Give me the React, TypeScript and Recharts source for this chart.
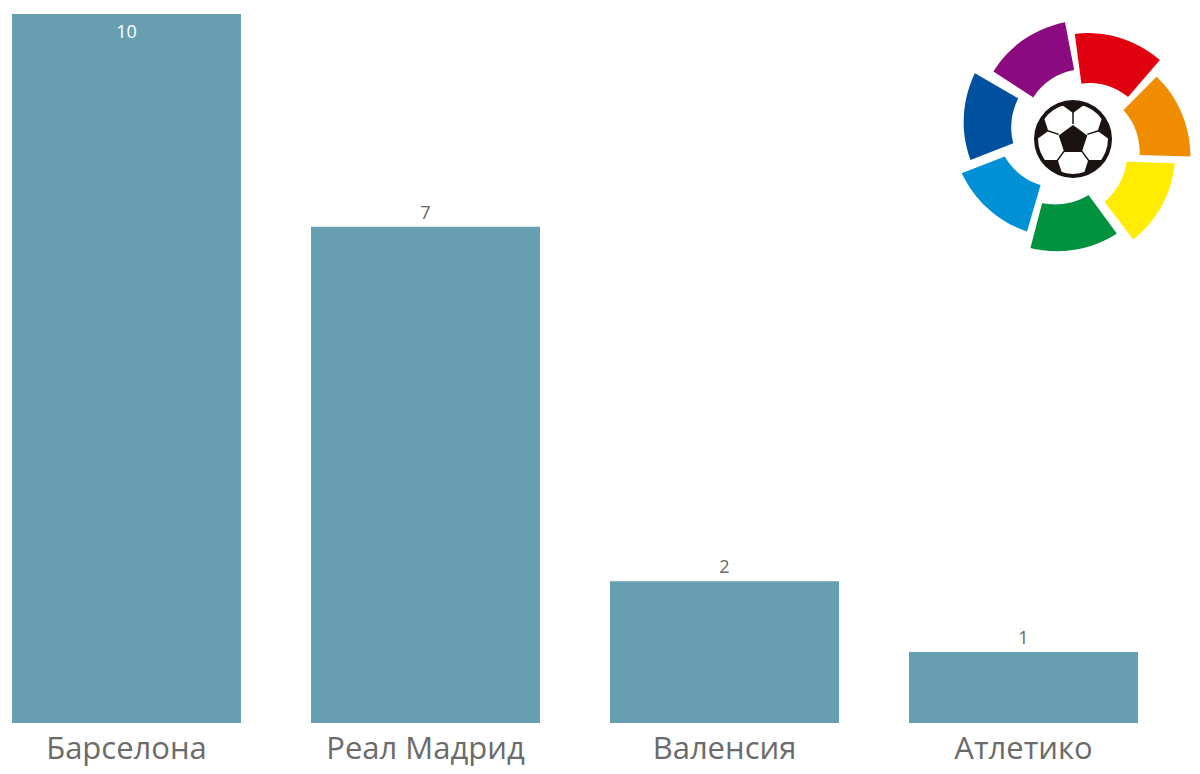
import React from "react";
import { BarChart, Bar, XAxis, YAxis, LabelList } from "recharts";

const teams = ["Барселона", "Реал Мадрид", "Валенсия", "Атлетико"];
const titles = [10, 7, 2, 1];
const data = teams.map((team, i) => ({ team, titles: titles[i] }));

const BAR_COLOR = "#679fb1";
const FONT = "'Open Sans', 'Noto Sans', sans-serif";

// LaLiga logo segments (decoration): [smallAngle, smallOuterR, smallInnerAngle, smallInnerR, bigAngle, bigOuterR, bigInnerAngle, bigInnerR]
const logoColors = ["#8c0a7f", "#e1000f", "#f08c00", "#ffec00", "#00923f", "#0090d5", "#0050a0"];
const logoSegs = [
  [140.6, 103, 135, 56, 94, 115, 89, 67],
  [89, 103, 81, 54, 41.5, 116, 36, 68],
  [35.8, 103, 28, 57, -9.5, 119, -15, 69],
  [-14.5, 105, -24.7, 59, -59.6, 119, -64, 72],
  [-65.6, 106, -75, 60, -111, 119, -115, 73],
  [-116, 105, -124, 58, -162, 117, -164, 71],
  [-167.4, 105, -174, 60, -213, 117, -215.3, 67],
];
const LC = { x: 1073, y: 137 };
const BC = { x: 1073, y: 139 };

function pt(a: number, r: number) {
  const rad = (a * Math.PI) / 180;
  return [LC.x + r * Math.cos(rad), LC.y - r * Math.sin(rad)];
}

function segPath(s: number[]) {
  const [sa, so, sia, si, ba, bo, bia, bi] = s;
  const n = 24;
  const pts: number[][] = [];
  for (let k = 0; k <= n; k++) {
    const t = k / n;
    pts.push(pt(sa + (ba - sa) * t, so + (bo - so) * t));
  }
  for (let k = n; k >= 0; k--) {
    const t = k / n;
    pts.push(pt(sia + (bia - sia) * t, si + (bi - si) * t));
  }
  return "M" + pts.map((p) => p[0].toFixed(1) + "," + p[1].toFixed(1)).join("L") + "Z";
}

function pentagon(cx: number, cy: number, r: number, rot: number) {
  const p: string[] = [];
  for (let k = 0; k < 5; k++) {
    const a = ((rot + k * 72) * Math.PI) / 180;
    p.push((cx + r * Math.sin(a)).toFixed(1) + "," + (cy - r * Math.cos(a)).toFixed(1));
  }
  return p.join(" ");
}

const Logo = () => {
  const br = 39;
  const vertAngles = [0, 72, 144, 216, 288];
  return (
    <svg width={1200} height={774} style={{ position: "absolute", left: 0, top: 0, pointerEvents: "none" }}>
      <defs>
        <clipPath id="ballClip">
          <circle cx={BC.x} cy={BC.y} r={br - 3} />
        </clipPath>
      </defs>
      {logoSegs.map((s, i) => (
        <path key={i} d={segPath(s)} fill={logoColors[i]} />
      ))}
      <circle cx={BC.x} cy={BC.y} r={br} fill="#1a1311" />
      <circle cx={BC.x} cy={BC.y} r={br - 4} fill="#ffffff" />
      <g clipPath="url(#ballClip)">
        {vertAngles.map((a, i) => {
          const rad = (a * Math.PI) / 180;
          const x1 = BC.x + 15 * Math.sin(rad);
          const y1 = BC.y - 15 * Math.cos(rad);
          const x2 = BC.x + 30 * Math.sin(rad);
          const y2 = BC.y - 30 * Math.cos(rad);
          const ox = BC.x + 40 * Math.sin(rad);
          const oy = BC.y - 40 * Math.cos(rad);
          return (
            <g key={i}>
              <line x1={x1} y1={y1} x2={x2} y2={y2} stroke="#1a1311" strokeWidth={1.5} />
              <polygon points={pentagon(ox, oy, 14, a + 36)} fill="#1a1311" />
            </g>
          );
        })}
        <polygon points={pentagon(BC.x, BC.y + 1, 15, 0)} fill="#1a1311" />
      </g>
    </svg>
  );
};

const ValueLabel = (props: any) => {
  const { x, y, width, value } = props;
  const inside = y < 40;
  return (
    <text
      x={x + width / 2}
      y={inside ? y + 17 : y - 15}
      textAnchor="middle"
      dominantBaseline="central"
      fontFamily={FONT}
      fontSize={18}
      fill={inside ? "#ffffff" : "#666666"}
    >
      {value}
    </text>
  );
};

export default function App() {
  return (
    <div style={{ position: "absolute", left: 0, top: 0, width: 1200, height: 774, overflow: "hidden", background: "#fff" }}>
      <div style={{ position: "absolute", left: -23, top: 0 }}>
        <BarChart width={1196} height={774} data={data} margin={{ top: 14, right: 0, left: 0, bottom: 0 }}>
          <XAxis
            dataKey="team"
            height={51}
            axisLine={false}
            tickLine={false}
            tickSize={0}
            tickMargin={14}
            interval={0}
            tick={{ fontSize: 31, fill: "#6b6b6b", fontFamily: FONT }}
          />
          <YAxis hide domain={[0, 10]} />
          <Bar dataKey="titles" fill={BAR_COLOR} barSize={229} isAnimationActive={false}>
            <LabelList dataKey="titles" content={<ValueLabel />} />
          </Bar>
        </BarChart>
      </div>
      <Logo />
    </div>
  );
}
